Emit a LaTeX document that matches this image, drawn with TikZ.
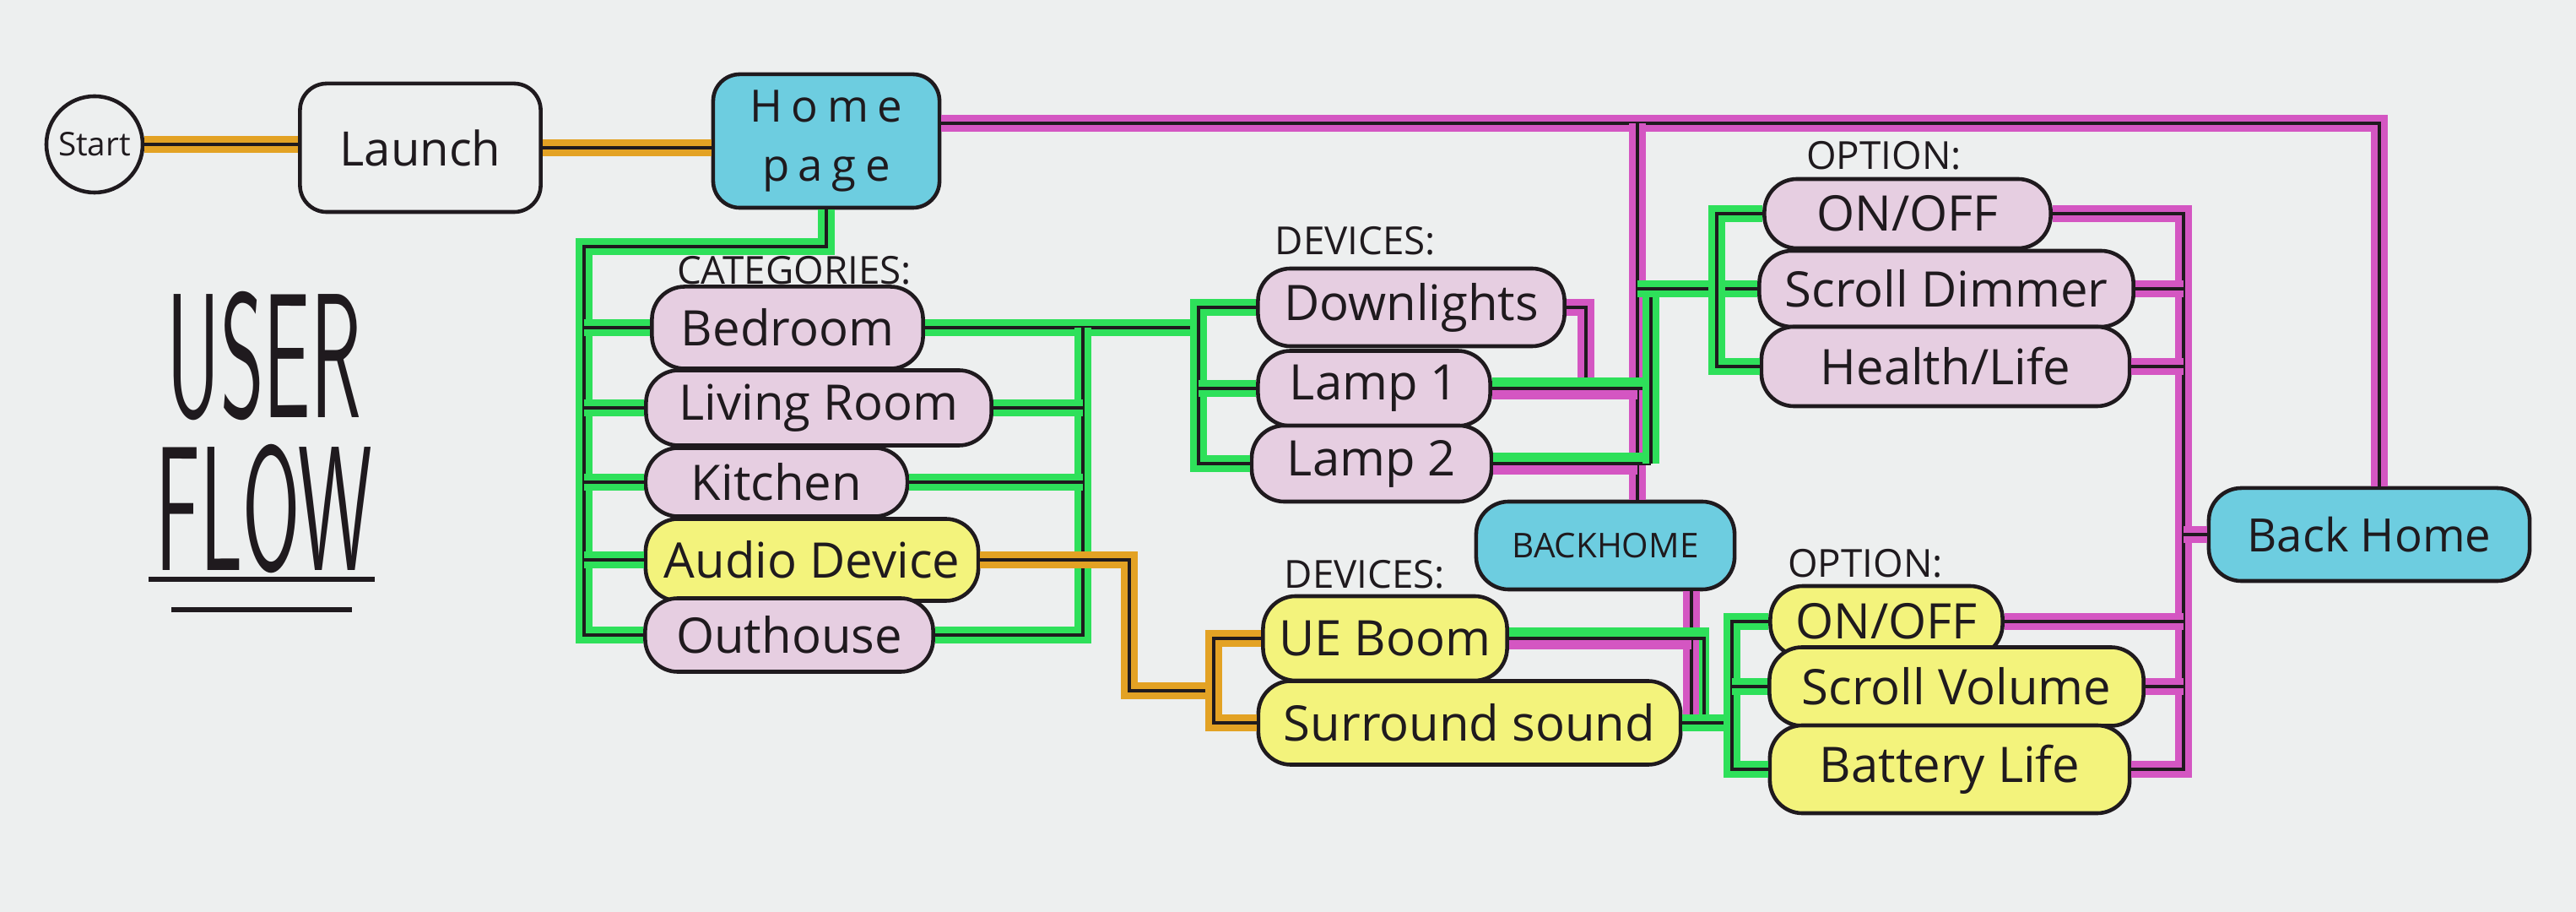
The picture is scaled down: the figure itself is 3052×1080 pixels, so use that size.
\documentclass[tikz,border=0pt]{standalone}
\usepackage{fontspec}
\setmainfont{Open Sans}
\usepackage{graphicx}
\definecolor{paper}{HTML}{EDEFEF}
\definecolor{ink}{HTML}{1F1A1E}
\definecolor{pinkfill}{HTML}{E6CEE1}
\definecolor{cyanfill}{HTML}{6DCDE0}
\definecolor{yellowfill}{HTML}{F3F37C}
\definecolor{lgreen}{HTML}{2EE05A}
\definecolor{lorange}{HTML}{E3A224}
\definecolor{lmagenta}{HTML}{D456C2}
\tikzset{
  link/.style={draw=ink, line width=1.2pt, preaction={draw=#1, line width=5.5pt}},
  linkup/.style={draw=ink, line width=1.2pt, preaction={draw=#1, line width=3.6pt, transform canvas={yshift=1.8pt}}},
  linkdown/.style={draw=ink, line width=1.2pt, preaction={draw=#1, line width=3.6pt, transform canvas={yshift=-1.8pt}}},
  pill/.style={draw=ink, line width=1.3pt, rounded corners=11pt, fill=#1, text=ink, inner sep=0pt, font=\fontsize{16.5}{18}\selectfont},
  pill/.default=pinkfill,
  head/.style={text=ink, inner sep=1pt, font=\fontsize{13}{14}\selectfont},
}
\begin{document}
\begin{tikzpicture}[x=0.01cm, y=-0.01cm]
  \fill[paper] (0,0) rectangle (3052,1080);
  \node[text=ink, align=center, inner sep=0pt, font=\sffamily\fontsize{46}{51.5}\selectfont] (t) at (313,512) {\scalebox{.61}[1.3]{USER}\\\scalebox{.61}[1.3]{FLOW}};
  \draw[ink, line width=1.5pt] (176,686) -- (444,686) (203,722) -- (417,722);

  \node[circle, draw=ink, line width=1.3pt, minimum size=1.14cm, inner sep=0pt, text=ink, font=\fontsize{11}{12}\selectfont] (s) at (112,171) {Start};
  \node[draw=ink, line width=1.3pt, rounded corners=9pt, minimum width=2.85cm, minimum height=1.52cm, text=ink, font=\fontsize{16}{18}\selectfont] (l) at (498,175) {Launch};
  \node[draw=ink, line width=1.3pt, rounded corners=9pt, fill=cyanfill, minimum width=2.68cm, minimum height=1.58cm, align=center, text=ink, font=\fontsize{15}{20}\selectfont\addfontfeature{LetterSpace=20}] (h) at (979,167) {Home\\page};

  \node[head] (lc) at (941,320) {CATEGORIES:};
  \node[pill, minimum width=3.21cm, minimum height=.97cm] (c1) at (933,388) {Bedroom};
  \node[pill, minimum width=4.09cm, minimum height=.89cm] (c2) at (970,483) {Living Room};
  \node[pill, minimum width=3.10cm, minimum height=.81cm] (c3) at (920,571) {Kitchen};
  \node[pill=yellowfill, minimum width=3.94cm, minimum height=.97cm] (c4) at (962,663) {Audio Device};
  \node[pill, minimum width=3.41cm, minimum height=.87cm] (c5) at (935,752) {Outhouse};

  \node[head] (ld) at (1606,285) {DEVICES:};
  \node[pill, minimum width=3.63cm, minimum height=.92cm] (d1) at (1672,364) {Downlights};
  \node[pill, minimum width=2.75cm, minimum height=.89cm] (d2) at (1628,460) {Lamp 1};
  \node[pill, minimum width=2.84cm, minimum height=.90cm] (d3) at (1625,549) {Lamp 2};
  \node[pill=cyanfill, minimum width=3.06cm, minimum height=1.04cm, font=\fontsize{11.5}{13}\selectfont] (b1) at (1902,646) {BACKHOME};
  \node[head] (ld2) at (1617,680) {DEVICES:};
  \node[pill=yellowfill, minimum width=2.89cm, minimum height=1.00cm] (d4) at (1641,756) {UE Boom};
  \node[pill=yellowfill, minimum width=5.00cm, minimum height=.99cm] (d5) at (1741,856) {Surround sound};

  \node[head] (lo) at (2232,184) {OPTION:};
  \node[pill, minimum width=3.39cm, minimum height=.82cm] (o1) at (2260,253) {ON/OFF};
  \node[pill, minimum width=4.43cm, minimum height=.90cm] (o2) at (2306,342) {Scroll Dimmer};
  \node[pill, minimum width=4.36cm, minimum height=.94cm] (o3) at (2305,434) {Health/Life};
  \node[head] (lo2) at (2210,667) {OPTION:};
  \node[pill=yellowfill, minimum width=2.75cm, minimum height=.84cm] (o4) at (2235,736) {ON/OFF};
  \node[pill=yellowfill, minimum width=4.43cm, minimum height=.93cm] (o5) at (2318,813) {Scroll Volume};
  \node[pill=yellowfill, minimum width=4.26cm, minimum height=1.04cm] (o6) at (2310,911) {Battery Life};
  \node[pill=cyanfill, minimum width=3.80cm, minimum height=1.10cm, font=\fontsize{15.5}{17}\selectfont] (b2) at (2807,633) {Back Home};

  \coordinate (tp) at (2819,146);
  \coordinate (cl) at (692,292);
  \coordinate (cr) at (1283,0);
  \coordinate (dl) at (1420,0);
  \coordinate (dr) at (1879,0);
  \coordinate (pb) at (1940,0);
  \coordinate (gb) at (1956,0);
  \coordinate (ob) at (2034,0);
  \coordinate (qb) at (2004,0);
  \coordinate (qg) at (2019,0);
  \coordinate (ob2) at (2052,0);
  \coordinate (rb) at (2587,0);
  \coordinate (aj) at (1338,0);
  \coordinate (oj) at (1438,818);

  \draw[link=lorange] (s.east) -- (s.east -| l.west);
  \draw[link=lorange] (l.east) -- (l.east -| h.west);
  \draw[link=lgreen] (h.south) |- (cl) |- (c5.west);
  \foreach \n in {c1,c2,c3,c4}
    \draw[link=lgreen] (cl |- \n.west) -- (\n.west);
  \draw[link=lgreen] (c1.east) -- (dl |- c1.east);
  \draw[link=lgreen] (cr |- c1.east) |- (c5.east);
  \foreach \n in {c2,c3}
    \draw[link=lgreen] (\n.east) -- (cr |- \n.east);
  \draw[link=lgreen] (d1.west) -| (dl |- d3.west) -- (d3.west);
  \draw[link=lgreen] (d2.west) -- (dl |- d2.west);
  \draw[link=lorange] (c4.east) -| (aj |- oj) -- (oj);
  \draw[link=lorange] (d4.west) -| (oj) |- (d5.west);

  \draw[link=lmagenta] (h.east |- tp) -- (tp) -- (tp |- b2.north);
  \draw[link=lmagenta] (pb |- tp) -- (pb |- b1.north);
  \draw[link=lmagenta] (d1.east) -| (dr |- d2.east);
  \foreach \n in {d2,d3} {
    \draw[linkdown=lmagenta] (\n.east) -- (pb |- \n.east);
    \draw[linkup=lgreen] (\n.east) -- (gb |- \n.east);
  }
  \draw[link=lgreen] (gb |- d3.east) -- (gb |- o2.west);
  \draw[link=lgreen] (pb |- o2.west) -- (o2.west);
  \draw[link=lgreen] (o1.west) -| (ob |- o3.west) -- (o3.west);

  \draw[link=lmagenta] (qb |- b1.south) -- (qb |- d5.east);
  \draw[linkdown=lmagenta] (d4.east) -- (qb |- d4.east);
  \draw[linkup=lgreen] (d4.east) -| (qg |- d5.east);
  \draw[link=lgreen] (d5.east) -- (ob2 |- d5.east);
  \draw[link=lgreen] (o4.west) -| (ob2 |- o6.west) -- (o6.west);
  \draw[link=lgreen] (o5.west) -- (ob2 |- o5.west);

  \draw[link=lmagenta] (o1.east) -| (rb |- o6.east) -- (o6.east);
  \foreach \n/\a in {o2/east,o3/east,o4/east,o5/east,b2/west}
    \draw[link=lmagenta] (\n.\a) -- (rb |- \n.\a);
\end{tikzpicture}
\end{document}
